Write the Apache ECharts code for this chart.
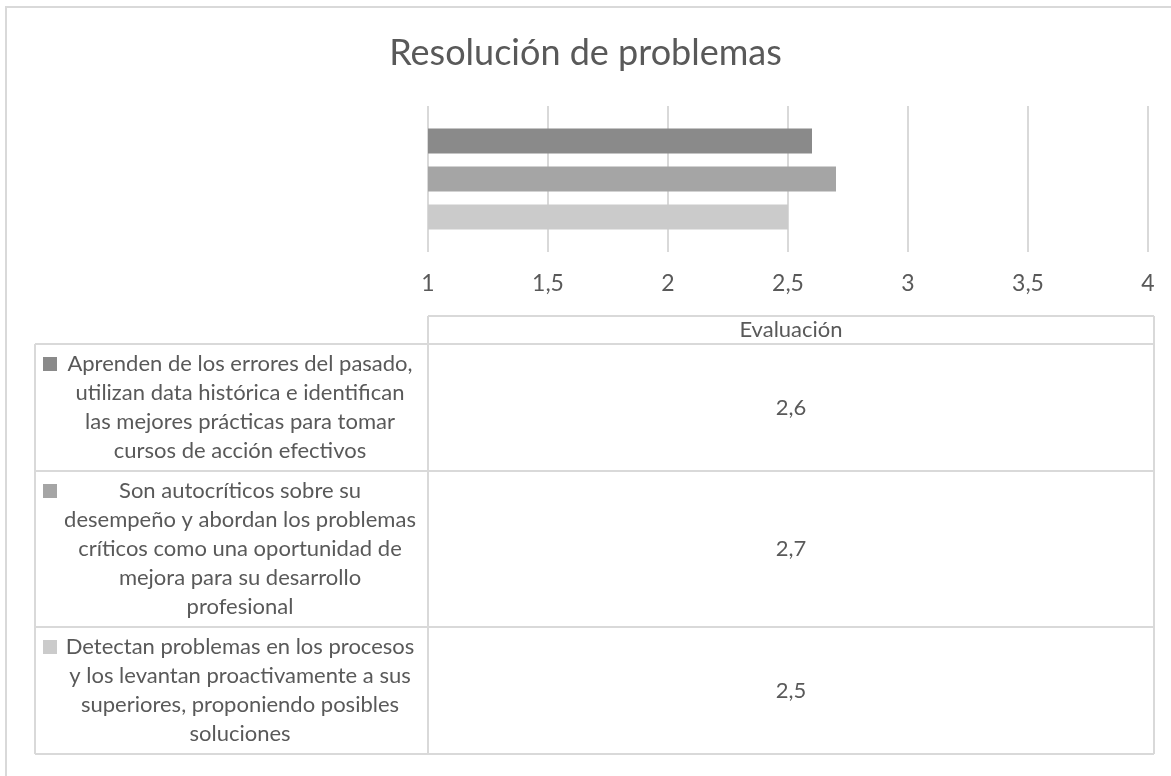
<!DOCTYPE html>
<html>
<head>
<meta charset="utf-8">
<script src="https://cdn.jsdelivr.net/npm/echarts@6/dist/echarts.min.js"></script>
<style>
  html, body { margin: 0; padding: 0; background: #fff; }
  #chart { width: 1171px; height: 776px; }
</style>
</head>
<body>
<div id="chart"></div>
<script>
// datos
const chartTitle = 'Resolución de problemas';
const tableHeader = 'Evaluación';
const seriesNames = [
  'Aprenden de los errores del pasado,\nutilizan data histórica e identifican\nlas mejores prácticas para tomar\ncursos de acción efectivos',
  'Son autocríticos sobre su\ndesempeño y abordan los problemas\ncríticos como una oportunidad de\nmejora para su desarrollo\nprofesional',
  'Detectan problemas en los procesos\ny los levantan proactivamente a sus\nsuperiores, proponiendo posibles\nsoluciones'
];
const seriesValues = [2.6, 2.7, 2.5];
const seriesColors = ['#8a8a8a', '#a5a5a5', '#cbcbcb'];
const xTicks = [1, 1.5, 2, 2.5, 3, 3.5, 4];

const FONT = 'Lato, "Open Sans", sans-serif';
const TXT = '#595959';
const LINE = '#d9d9d9';
const fmt = v => String(v).replace('.', ',');

// tabla de datos
const tableLeft = 35, colX = 428, tableRight = 1154;
const headerTop = 316, headerBottom = 344;
const lineH = 29;
const graphics = [];

function hline(x1, x2, y) {
  graphics.push({ type: 'line', shape: { x1: x1, y1: y, x2: x2, y2: y }, style: { stroke: LINE, lineWidth: 2 } });
}
function vline(x, y1, y2) {
  graphics.push({ type: 'line', shape: { x1: x, y1: y1, x2: x, y2: y2 }, style: { stroke: LINE, lineWidth: 2 } });
}

// borde exterior
hline(5, 1171, 7);
vline(6, 7, 776);

// encabezado
hline(colX, tableRight, headerTop);
vline(colX, headerTop, headerBottom);
vline(tableRight, headerTop, headerBottom);
graphics.push({
  type: 'text',
  style: { text: tableHeader, x: (colX + tableRight) / 2, y: (headerTop + headerBottom) / 2,
    align: 'center', verticalAlign: 'middle', fill: TXT, font: '22px ' + FONT }
});

let rowTop = headerBottom;
hline(tableLeft, tableRight, rowTop);
seriesNames.forEach((name, i) => {
  const n = name.split('\n').length;
  const h = n * lineH + 11;
  const cy = rowTop + h / 2;
  const firstLine = cy - n * lineH / 2 + lineH / 2;
  graphics.push({
    type: 'rect', shape: { x: 43, y: firstLine - 7, width: 14, height: 14 },
    style: { fill: seriesColors[i] }
  });
  graphics.push({
    type: 'text',
    style: { text: name, x: 240, y: cy, align: 'center', verticalAlign: 'middle',
      lineHeight: lineH, fill: TXT, font: '22px ' + FONT }
  });
  graphics.push({
    type: 'text',
    style: { text: fmt(seriesValues[i]), x: (colX + tableRight) / 2, y: cy,
      align: 'center', verticalAlign: 'middle', fill: TXT, font: '22px ' + FONT }
  });
  vline(tableLeft, rowTop, rowTop + h);
  vline(colX, rowTop, rowTop + h);
  vline(tableRight, rowTop, rowTop + h);
  rowTop += h;
  hline(tableLeft, tableRight, rowTop);
});

const chart = echarts.init(document.getElementById('chart'));
chart.setOption({
  animation: false,
  title: {
    text: chartTitle,
    left: 'center',
    top: 30,
    textStyle: { fontFamily: FONT, fontSize: 36, fontWeight: 'normal', color: TXT }
  },
  grid: { left: 428, right: 23, top: 106, height: 146, containLabel: false },
  xAxis: {
    type: 'value',
    min: xTicks[0],
    max: xTicks[xTicks.length - 1],
    interval: 0.5,
    axisLine: { show: false },
    axisTick: { show: false },
    splitLine: { show: true, lineStyle: { color: LINE, width: 2 } },
    axisLabel: { margin: 20, color: TXT, fontFamily: FONT, fontSize: 23, formatter: fmt }
  },
  yAxis: {
    type: 'category',
    data: [''],
    axisLine: { show: false },
    axisTick: { show: false },
    axisLabel: { show: false }
  },
  series: seriesNames.map((name, i) => ({
    name: name,
    type: 'bar',
    data: [seriesValues[i]],
    barWidth: 25,
    barGap: '52%',
    itemStyle: { color: seriesColors[i] }
  })),
  graphic: graphics
});
</script>
</body>
</html>
